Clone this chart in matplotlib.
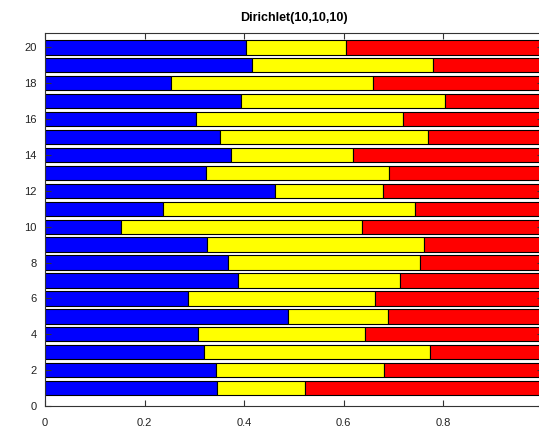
import numpy as np
import matplotlib
matplotlib.use("Agg")
import matplotlib.pyplot as plt

plt.rcParams['font.family'] = ['Liberation Sans', 'DejaVu Sans']

# samples 1..20, cumulative break points
rows = np.arange(1, 21)
blue_end = [0.345, 0.344, 0.320, 0.308, 0.487, 0.287, 0.387, 0.367, 0.325, 0.152,
            0.236, 0.461, 0.324, 0.374, 0.351, 0.304, 0.393, 0.254, 0.415, 0.404]
yellow_end = [0.523, 0.681, 0.774, 0.642, 0.689, 0.662, 0.713, 0.753, 0.761, 0.637,
              0.742, 0.679, 0.690, 0.618, 0.770, 0.719, 0.804, 0.659, 0.779, 0.605]

p1 = np.array(blue_end)
p2 = np.array(yellow_end) - p1
p3 = 1 - np.array(yellow_end)

fig = plt.figure(figsize=(5.39, 4.32), dpi=100)
ax = fig.add_axes([45/539, 26/432, 498/539, 373/432])

ax.barh(rows, p1, height=0.8, color="#0000ff", edgecolor="black", linewidth=0.8)
ax.barh(rows, p2, left=p1, height=0.8, color="#ffff00", edgecolor="black", linewidth=0.8)
ax.barh(rows, p3, left=p1 + p2, height=0.8, color="#ff0000", edgecolor="black", linewidth=0.8)

ax.set_xlim(0, 1)
ax.set_ylim(0, 20.8)
ax.set_xticks(np.arange(0, 1.01, 0.2))
ax.set_xticklabels(["0", "0.2", "0.4", "0.6", "0.8", "1"])
ax.set_yticks(np.arange(0, 21, 2))
ax.tick_params(direction="in", top=True, right=True, labelsize=8, length=4,
               color="#333333", labelcolor="#222222", pad=6)
ax.tick_params(axis="x", pad=9)
for s in ax.spines.values():
    s.set_color("#333333")
    s.set_linewidth(0.8)

ax.set_title("Dirichlet(10,10,10)", fontsize=9, fontweight="bold", pad=9)

plt.savefig("out.png", dpi=100)
